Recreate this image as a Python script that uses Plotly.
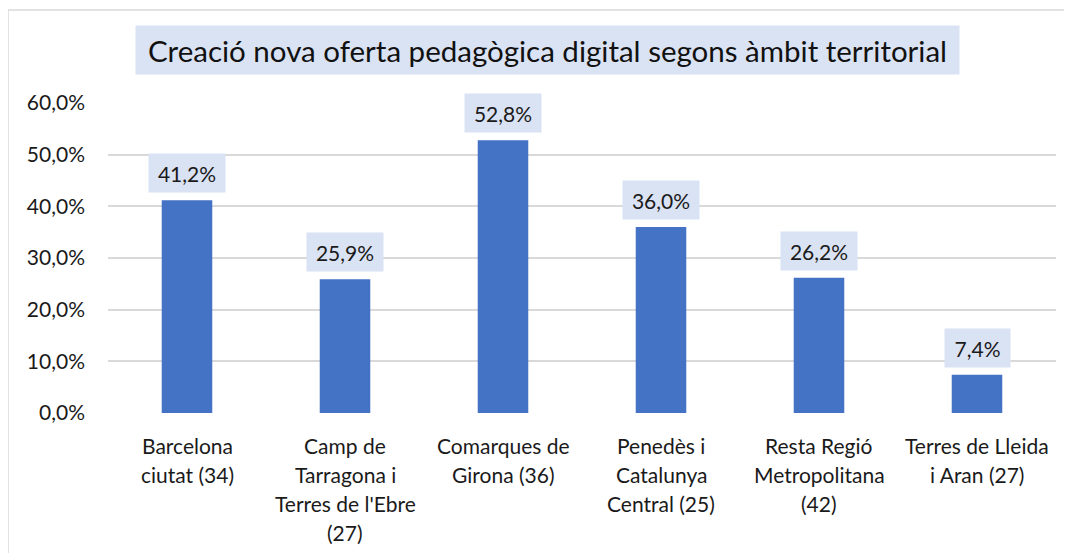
import plotly.graph_objects as go

categories = ["Barcelona ciutat (34)", "Camp de Tarragona i Terres de l'Ebre (27)",
              "Comarques de Girona (36)", "Penedès i Catalunya Central (25)",
              "Resta Regió Metropolitana (42)", "Terres de Lleida i Aran (27)"]
category_lines = [["Barcelona", "ciutat (34)"],
                  ["Camp de", "Tarragona i", "Terres de l'Ebre", "(27)"],
                  ["Comarques de", "Girona (36)"],
                  ["Penedès i", "Catalunya", "Central (25)"],
                  ["Resta Regió", "Metropolitana", "(42)"],
                  ["Terres de Lleida", "i Aran (27)"]]
values = [0.412, 0.259, 0.528, 0.360, 0.262, 0.074]
title_text = "Creació nova oferta pedagògica digital segons àmbit territorial"

FONT = "Lato"
TXT = "#1a1a1a"
LBG = "#DAE3F3"

fig = go.Figure(go.Bar(x=categories, y=values, marker_color="#4472C4",
                       marker_line_width=0, hoverinfo="skip"))

def fmt(v):
    return f"{v*100:.1f}%".replace(".", ",")

annotations = []
for c, v in zip(categories, values):
    t = fmt(v)
    annotations.append(dict(x=c, y=v, xref="x", yref="y", text=t, showarrow=False,
                            yanchor="bottom", yshift=7, bgcolor=LBG, borderpad=2,
                            width=72 if len(t) >= 5 else 61, height=34,
                            font=dict(family=FONT, size=21, color=TXT)))
for c, lines in zip(categories, category_lines):
    for i, ln in enumerate(lines):
        annotations.append(dict(x=c, y=0, xref="x", yref="paper", text=ln, showarrow=False,
                                yanchor="middle", yshift=-32 - 29 * i,
                                font=dict(family=FONT, size=21, color=TXT)))
annotations.append(dict(x=0.4636, y=1.171, xref="paper", yref="paper", text=title_text,
                        showarrow=False, xanchor="center", yanchor="middle",
                        bgcolor=LBG, borderpad=4, width=815, height=40,
                        font=dict(family=FONT, size=29.5, color="#111111")))

fig.update_layout(
    width=1072, height=553,
    margin=dict(l=100, r=24, t=95, b=148),
    paper_bgcolor="white", plot_bgcolor="white",
    separators=",.",
    bargap=0.68,
    showlegend=False,
    annotations=annotations,
    shapes=[dict(type="rect", xref="paper", yref="paper", x0=-0.1055, x1=1.2,
                 y0=-0.6, y1=1.3, line=dict(color="#D9D9D9", width=1.5),
                 fillcolor="rgba(0,0,0,0)", layer="below")],
    xaxis=dict(showticklabels=False, showgrid=False, zeroline=False, showline=False,
               fixedrange=True),
    yaxis=dict(range=[0, 0.6], dtick=0.1, tickformat=".1%", showgrid=True,
               gridcolor="#D9D9D9", gridwidth=1.5, zeroline=False, showline=False,
               ticklabelstandoff=22,
               tickfont=dict(family=FONT, size=21, color=TXT), fixedrange=True),
)

fig.write_html("out.html")
